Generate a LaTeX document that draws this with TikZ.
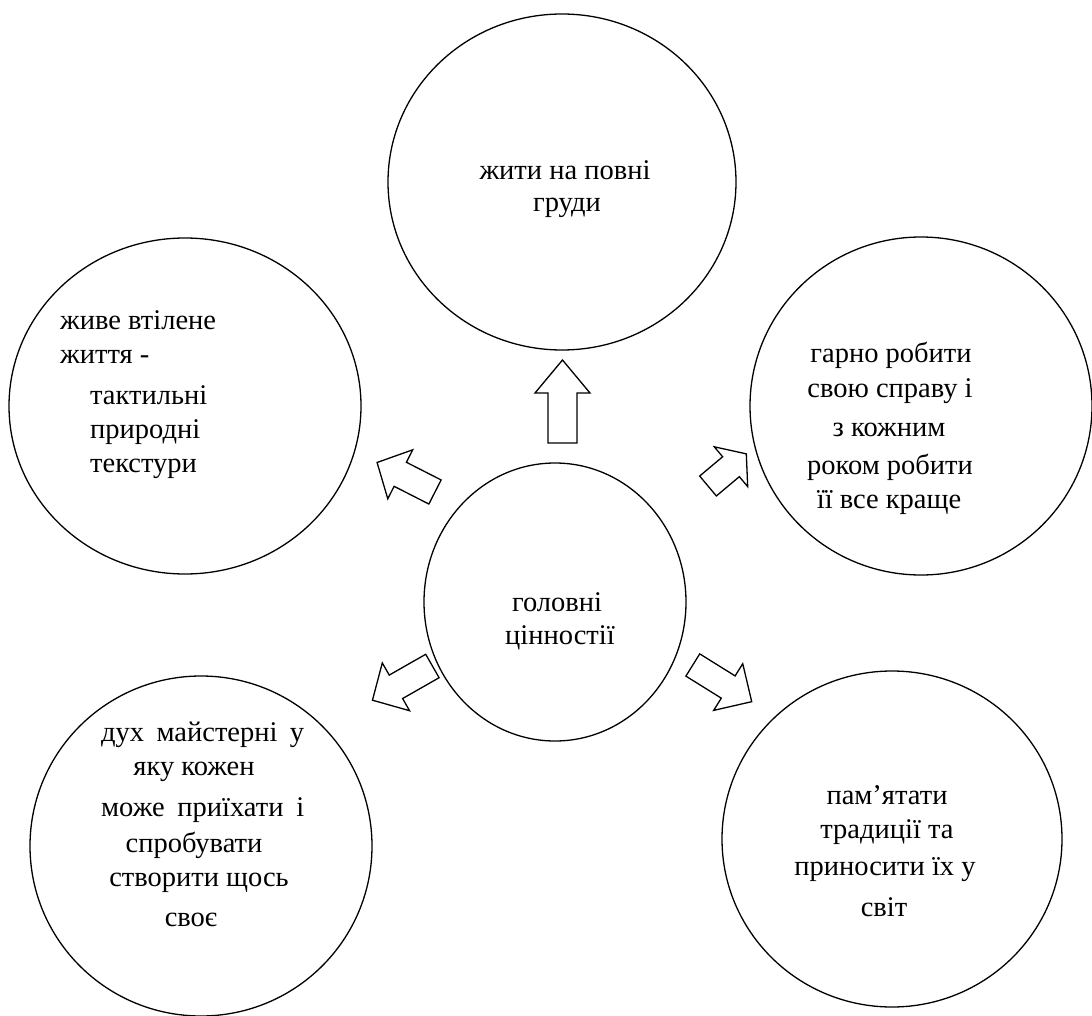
\documentclass[tikz,border=0pt]{standalone}
\usepackage{fontspec}
\setmainfont{Liberation Serif}
\usetikzlibrary{shapes.geometric}
\begin{document}
\begin{tikzpicture}[x=1pt,y=1pt,
  bubble/.style={draw, ellipse, line width=1.3pt, inner sep=0pt},
  arr/.style={draw, line width=1.3pt, line join=miter},
  lbl/.style={inner sep=0pt, font=\fontsize{28.5}{38}\selectfont}]
\useasboundingbox (0,0) rectangle (1092,-1016);
% circles
\node[bubble, minimum width=348, minimum height=336] (top) at (562,-182) {};
\node[bubble, minimum width=352, minimum height=336] (ul) at (185,-406) {};
\node[bubble, minimum width=342, minimum height=338] (ur) at (921,-406) {};
\node[bubble, minimum width=262, minimum height=278] (mid) at (555,-602) {};
\node[bubble, minimum width=342, minimum height=340] (bl) at (201,-846) {};
\node[bubble, minimum width=340, minimum height=336] (br) at (892,-839) {};
% block arrows
\draw[arr, shift={(562.5,-443)}, rotate=90] (0,-14.5) -- (50,-14.5) -- (50,-27.5) -- (83,0) -- (50,27.5) -- (50,14.5) -- (0,14.5) -- cycle;
\draw[arr, shift={(435,-492)}, rotate=153] (0,-13.5) -- (39,-13.5) -- (39,-27.5) -- (65,0) -- (39,27.5) -- (39,13.5) -- (0,13.5) -- cycle;
\draw[arr, shift={(708,-486)}, rotate=40] (0,-13) -- (30,-13) -- (30,-26) -- (50,0) -- (30,26) -- (30,13) -- (0,13) -- cycle;
\draw[arr, shift={(432.4,-666)}, rotate=209.7] (0,-13.5) -- (42,-13.5) -- (42,-27.5) -- (69,0) -- (42,27.5) -- (42,13.5) -- (0,13.5) -- cycle;
\draw[arr, shift={(692.8,-665)}, rotate=-31.9] (0,-13.1) -- (41.7,-13.1) -- (41.7,-27.5) -- (69.4,0) -- (41.7,27.5) -- (41.7,13.1) -- (0,13.1) -- cycle;
% texts
\node[lbl] (t1) at (565,-170) {жити на повні};
\node[lbl] (t2) at (567,-208) {груди};
\node[lbl, anchor=west] (u1) at (60,-320) {живе втілене};
\node[lbl, anchor=west] (u2) at (60,-357) {життя -};
\node[lbl, anchor=west] (u3) at (90,-395) {тактильні};
\node[lbl, anchor=west] (u4) at (90,-432) {природні};
\node[lbl, anchor=west] (u5) at (90,-469) {текстури};
\node[lbl] (r1) at (891,-355) {гарно робити};
\node[lbl] (r2) at (890,-391) {свою справу і};
\node[lbl] (r3) at (889,-430) {з кожним};
\node[lbl] (r4) at (890,-467) {роком робити};
\node[lbl] (r5) at (889,-503) {її все краще};
\node[lbl] (m1) at (557,-602) {головні};
\node[lbl] (m2) at (560,-638) {цінностії};
\node[lbl, anchor=west] (b1) at (101,-735) {\makebox[203pt][s]{дух\hfill майстерні\hfill у}};
\node[lbl] (b2) at (194,-772) {яку кожен};
\node[lbl, anchor=west] (b3) at (101,-810) {\makebox[203pt][s]{може\hfill приїхати\hfill і}};
\node[lbl] (b4) at (194,-845) {спробувати};
\node[lbl] (b5) at (199,-883) {створити щось};
\node[lbl] (b6) at (191,-920) {своє};
\node[lbl] (s1) at (887,-795) {пам’ятати};
\node[lbl] (s2) at (887,-832) {традиції та};
\node[lbl] (s3) at (885,-870) {приносити їх у};
\node[lbl] (s4) at (884,-907) {світ};
\end{tikzpicture}
\end{document}
